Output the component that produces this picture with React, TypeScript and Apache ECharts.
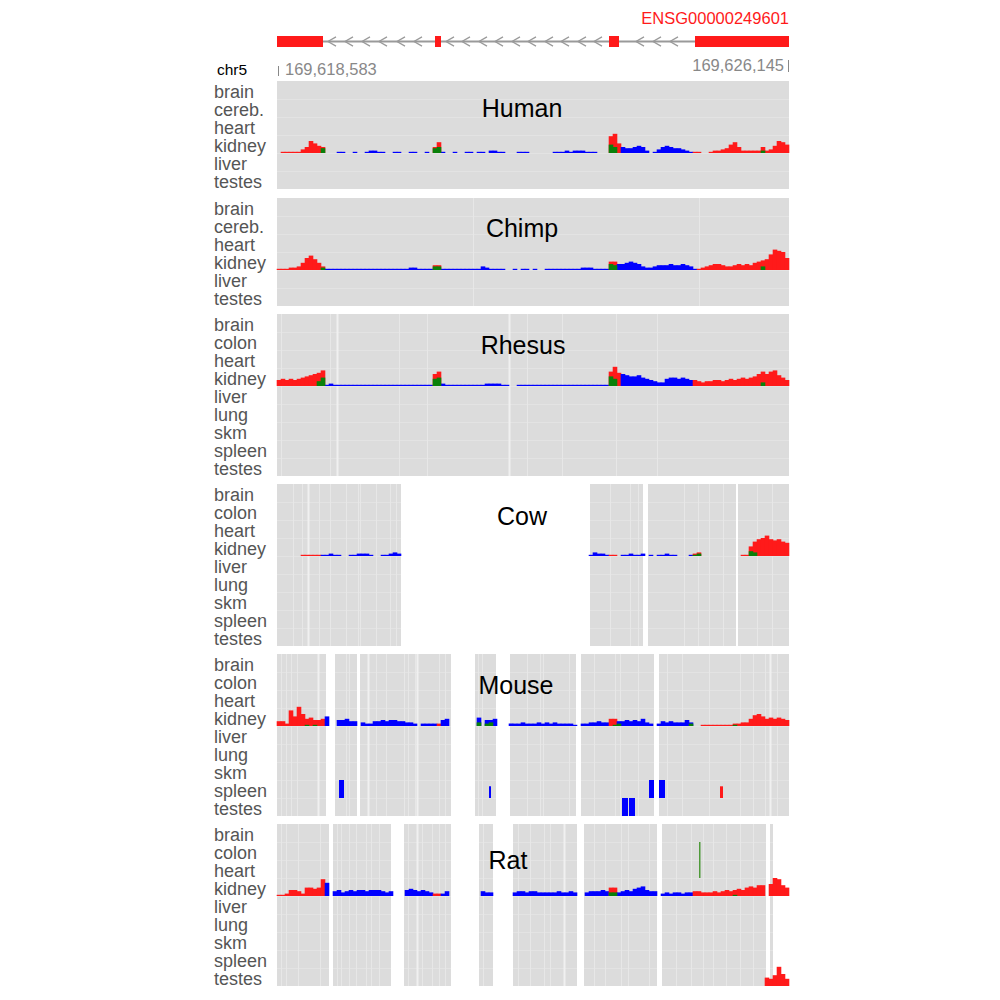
import React, { useEffect, useRef } from "react";
import * as echarts from "echarts";

// ---------- constants ----------
const FONT = "'Liberation Sans', Arial, Helvetica, sans-serif";
const LOCUS = 512; // track positions across the locus (~14.8 bp each)
const BIN = 4; // positions per coverage bin
const ROW = 15; // coverage units per tissue row

// ---------- gene model ----------
const GENE_ID = "ENSG00000249601";
const CHROM = "chr5";
const START_LABEL = "169,618,583";
const END_LABEL = "169,626,145";
const EXONS: [number, number][] = [[0, 46], [158, 164], [332, 342], [418, 512]];
const CHEVRONS = [55, 72, 89, 106, 124, 141, 173, 189, 206, 222, 239, 255, 272, 288, 305, 321, 363, 380, 397];

// ---------- tissues ----------
const TISSUES_PRIMATE = ["brain", "cereb.", "heart", "kidney", "liver", "testes"];
const TISSUES_FULL = ["brain", "colon", "heart", "kidney", "liver", "lung", "skm", "spleen", "testes"];

// ---------- coverage (kidney track, 128 bins) ----------
const HUMAN_HEIGHTS = [
  0, 1, 1, 1, 1, 1, 3, 5, 10, 8, 6, 5, 0, 0, 0, 1,
  1, 0, 0, 1, 0, 0, 1, 2, 2, 1, 1, 0, 0, 1, 1, 0,
  0, 1, 1, 0, 0, 1, 0, 5, 9, 1, 0, 0, 1, 0, 0, 1,
  1, 0, 1, 1, 0, 2, 2, 1, 1, 0, 0, 0, 1, 1, 1, 0,
  0, 0, 0, 0, 0, 1, 1, 1, 2, 1, 2, 2, 2, 1, 1, 1,
  0, 0, 0, 14, 16, 8, 5, 4, 4, 5, 6, 5, 2, 0, 1, 3,
  5, 6, 5, 4, 4, 3, 2, 1, 1, 1, 0, 0, 1, 2, 2, 3,
  4, 7, 9, 5, 2, 2, 2, 2, 2, 5, 2, 3, 6, 10, 9, 7,
];
const HUMAN_COLORS: [number, number, string][] = [[0, 11, "r"], [12, 38, "b"], [39, 40, "r"], [41, 82, "b"], [83, 85, "r"], [86, 103, "b"], [104, 127, "r"]];
const HUMAN_GREEN: [number, number][] = [[11, 4], [39, 4], [40, 5], [83, 7], [84, 5], [121, 2]];

const CHIMP_HEIGHTS = [
  1, 1, 1, 2, 2, 3, 6, 10, 12, 9, 6, 3, 1, 1, 1, 1,
  1, 1, 1, 1, 1, 1, 1, 1, 1, 1, 1, 1, 1, 1, 1, 1,
  1, 2, 2, 1, 1, 1, 1, 4, 4, 1, 1, 1, 1, 1, 1, 1,
  1, 1, 1, 3, 2, 1, 1, 1, 1, 0, 0, 1, 0, 1, 1, 0,
  1, 0, 0, 1, 1, 1, 1, 1, 1, 1, 1, 1, 2, 2, 2, 1,
  1, 1, 1, 7, 7, 5, 5, 6, 7, 6, 5, 3, 2, 2, 3, 4,
  4, 4, 5, 4, 4, 5, 4, 3, 1, 1, 2, 3, 4, 5, 5, 4,
  3, 3, 4, 5, 4, 5, 4, 6, 7, 8, 9, 13, 17, 16, 15, 10,
];
const CHIMP_COLORS: [number, number, string][] = [[0, 11, "r"], [12, 38, "b"], [39, 40, "r"], [41, 82, "b"], [83, 84, "r"], [85, 104, "b"], [105, 127, "r"]];
const CHIMP_GREEN: [number, number][] = [[11, 2], [39, 3], [40, 3], [83, 5], [84, 4], [121, 3]];

const RHESUS_HEIGHTS = [
  5, 6, 5, 6, 5, 6, 7, 8, 9, 10, 11, 13, 1, 2, 1, 1,
  1, 1, 1, 1, 1, 1, 1, 1, 1, 1, 1, 1, 1, 1, 1, 1,
  1, 1, 1, 1, 1, 1, 1, 10, 12, 2, 1, 1, 1, 1, 1, 1,
  1, 1, 1, 1, 2, 2, 2, 2, 1, 1, 0, 0, 1, 1, 1, 1,
  1, 1, 1, 1, 1, 1, 1, 1, 1, 1, 1, 1, 1, 1, 1, 1,
  1, 1, 1, 12, 16, 11, 10, 9, 8, 8, 9, 7, 6, 5, 4, 3,
  3, 6, 7, 7, 6, 7, 6, 5, 5, 4, 3, 4, 4, 5, 5, 4,
  5, 6, 5, 6, 7, 6, 7, 8, 10, 12, 10, 12, 13, 9, 7, 5,
];
const RHESUS_COLORS: [number, number, string][] = [[0, 11, "r"], [12, 38, "b"], [39, 40, "r"], [41, 82, "b"], [83, 85, "r"], [86, 103, "b"], [104, 127, "r"]];
const RHESUS_GREEN: [number, number][] = [[10, 4], [11, 7], [39, 6], [40, 7], [83, 8], [84, 6], [121, 3]];

const COW_HEIGHTS = [
  0, 0, 0, 0, 0, 0, 1, 1, 1, 1, 1, 1, 1, 2, 1, 1,
  0, 0, 1, 1, 2, 2, 2, 1, 0, 0, 1, 1, 2, 3, 2, 0,
  0, 0, 0, 0, 0, 0, 0, 0, 0, 0, 0, 0, 0, 0, 0, 0,
  0, 0, 0, 0, 0, 0, 0, 0, 0, 0, 0, 0, 0, 0, 0, 0,
  0, 0, 0, 0, 0, 0, 0, 0, 0, 0, 0, 0, 0, 0, 1, 3,
  2, 2, 1, 1, 1, 0, 1, 1, 2, 1, 1, 2, 0, 1, 0, 1,
  1, 2, 1, 1, 0, 0, 0, 1, 2, 3, 0, 0, 0, 0, 0, 0,
  0, 0, 0, 0, 1, 1, 8, 12, 14, 15, 17, 14, 13, 14, 12, 11,
];
const COW_COLORS: [number, number, string][] = [[0, 10, "r"], [11, 82, "b"], [83, 84, "r"], [85, 103, "b"], [104, 127, "r"]];
const COW_GREEN: [number, number][] = [[104, 1], [105, 2], [118, 4], [119, 3]];

const MOUSE_HEIGHTS = [
  4, 4, 2, 13, 8, 16, 10, 6, 7, 5, 5, 6, 8, 0, 0, 5,
  5, 6, 4, 4, 0, 3, 2, 2, 4, 4, 5, 4, 5, 5, 4, 4,
  3, 3, 2, 0, 2, 2, 2, 2, 2, 5, 6, 0, 0, 0, 0, 0,
  0, 0, 7, 0, 5, 5, 6, 0, 0, 0, 2, 2, 2, 3, 2, 2,
  2, 3, 2, 3, 2, 3, 2, 2, 2, 2, 1, 0, 2, 2, 3, 3,
  4, 3, 3, 6, 6, 4, 4, 5, 4, 5, 4, 6, 3, 2, 0, 2,
  4, 3, 4, 3, 3, 3, 5, 3, 0, 0, 1, 1, 1, 1, 1, 1,
  1, 1, 2, 2, 3, 3, 6, 9, 10, 8, 6, 7, 6, 7, 6, 5,
];
const MOUSE_COLORS: [number, number, string][] = [[0, 11, "r"], [12, 39, "b"], [40, 40, "r"], [41, 82, "b"], [83, 84, "r"], [85, 105, "b"], [106, 127, "r"]];
const MOUSE_GREEN: [number, number][] = [[7, 1], [9, 1], [50, 3], [52, 2], [53, 3], [84, 1], [85, 2], [103, 2], [114, 1]];

const RAT_HEIGHTS = [
  1, 1, 2, 5, 5, 4, 2, 7, 7, 6, 7, 14, 11, 0, 4, 5,
  3, 4, 5, 4, 5, 5, 4, 5, 5, 5, 4, 3, 4, 0, 0, 0,
  5, 6, 5, 4, 5, 4, 3, 2, 2, 2, 4, 0, 0, 0, 0, 0,
  0, 0, 0, 4, 3, 3, 0, 0, 0, 0, 0, 3, 4, 4, 3, 4,
  4, 3, 3, 3, 3, 3, 4, 3, 3, 4, 3, 0, 0, 3, 4, 4,
  4, 5, 4, 7, 7, 3, 4, 5, 4, 6, 7, 8, 5, 4, 4, 0,
  2, 3, 2, 3, 3, 2, 3, 3, 4, 4, 3, 3, 3, 4, 3, 4,
  5, 4, 5, 6, 5, 7, 8, 7, 9, 9, 0, 10, 15, 14, 9, 7,
];
const RAT_COLORS: [number, number, string][] = [[0, 11, "r"], [12, 38, "b"], [39, 40, "r"], [41, 82, "b"], [83, 84, "r"], [85, 103, "b"], [104, 127, "r"]];
const RAT_GREEN: [number, number][] = [[83, 3], [84, 3], [114, 1]];
// rat testes track: [bin, height]
const RAT_TESTES: [number, number][] = [[122, 7], [123, 6], [124, 9], [125, 16], [126, 10], [127, 6]];

// ---------- signal blocks in other tissues: [tissue, start, end, fraction of row, colour] ----------
const MOUSE_BLOCKS: [string, number, number, number, string][] = [
  ["spleen", 62, 67, 1, "b"],
  ["spleen", 212, 214, 0.65, "b"],
  ["testes", 345, 351, 1, "b"],
  ["testes", 352, 358, 1, "b"],
  ["spleen", 372, 377, 1, "b"],
  ["spleen", 382, 388, 1, "b"],
  ["spleen", 443, 446, 0.65, "r"],
];
const RAT_BLOCKS: [string, number, number, number, string][] = [
  ["colon", 422, 423.5, 1, "l"],
  ["heart", 422, 423.5, 1, "l"],
];

// ---------- aligned regions & alignment-block separators ----------
const FULL_ALIGNED: [number, number][] = [[0, 512]];
const COW_ALIGNED: [number, number][] = [[0, 124], [313, 366], [371, 459], [461, 512]];
const MOUSE_ALIGNED: [number, number][] = [[0, 49], [58, 80], [83, 174], [198, 219], [233, 299], [304, 377], [382, 512]];
const RAT_ALIGNED: [number, number][] = [[0, 52], [56, 114], [127, 174], [202, 216], [236, 300], [307, 380], [385, 489], [493, 496]];

const CHIMP_SEPS = [196, 422];
const RHESUS_SEPS = [4, 53, 122, 150, 250, 285, 339, 380];
const RHESUS_BRIGHT = [60, 232];
const COW_SEPS = [16, 25, 42, 53, 69, 81, 83, 99, 113, 119, 333, 353, 361, 407, 421, 432, 446, 480, 495];
const COW_BRIGHT = [31];
const MOUSE_SEPS = [4, 9, 14, 20, 69, 72, 99, 109, 127, 131, 138, 162, 168, 201, 205, 250, 263, 266, 292, 317, 338, 343, 361, 390, 405, 432, 463, 476, 488, 500];
const MOUSE_BRIGHT = [41, 91, 140, 493];
const RAT_SEPS = [4, 9, 21, 43, 60, 64, 72, 79, 89, 94, 102, 131, 145, 155, 162, 168, 206, 241, 253, 267, 273, 317, 328, 344, 351, 372, 399, 414, 426, 436, 449, 463, 476];
const RAT_BRIGHT = [140, 287];

// ---------- panels ----------
const PANELS = [
  { name: "Human", tissues: TISSUES_PRIMATE, heights: HUMAN_HEIGHTS, colors: HUMAN_COLORS, green: HUMAN_GREEN, aligned: FULL_ALIGNED, seps: [] as number[], bright: [] as number[], blocks: [] as [string, number, number, number, string][], testes: [] as [number, number][] },
  { name: "Chimp", tissues: TISSUES_PRIMATE, heights: CHIMP_HEIGHTS, colors: CHIMP_COLORS, green: CHIMP_GREEN, aligned: FULL_ALIGNED, seps: CHIMP_SEPS, bright: [], blocks: [], testes: [] },
  { name: "Rhesus", tissues: TISSUES_FULL, heights: RHESUS_HEIGHTS, colors: RHESUS_COLORS, green: RHESUS_GREEN, aligned: FULL_ALIGNED, seps: RHESUS_SEPS, bright: RHESUS_BRIGHT, blocks: [], testes: [] },
  { name: "Cow", tissues: TISSUES_FULL, heights: COW_HEIGHTS, colors: COW_COLORS, green: COW_GREEN, aligned: COW_ALIGNED, seps: COW_SEPS, bright: COW_BRIGHT, blocks: [], testes: [] },
  { name: "Mouse", tissues: TISSUES_FULL, heights: MOUSE_HEIGHTS, colors: MOUSE_COLORS, green: MOUSE_GREEN, aligned: MOUSE_ALIGNED, seps: MOUSE_SEPS, bright: MOUSE_BRIGHT, blocks: MOUSE_BLOCKS, testes: [] },
  { name: "Rat", tissues: TISSUES_FULL, heights: RAT_HEIGHTS, colors: RAT_COLORS, green: RAT_GREEN, aligned: RAT_ALIGNED, seps: RAT_SEPS, bright: RAT_BRIGHT, blocks: RAT_BLOCKS, testes: RAT_TESTES },
];

// ---------- layout (pixels) ----------
const PLOT_LEFT = 277;
const PLOT_WIDTH = 512;
const LABEL_X = 214;
const ROW_PX = 18;
const PANEL_LAYOUT = [
  { top: 81, titleX: 522, titleY: 108 },
  { top: 198, titleX: 522, titleY: 228 },
  { top: 314, titleX: 523, titleY: 345 },
  { top: 484, titleX: 522, titleY: 516 },
  { top: 654, titleX: 516, titleY: 685 },
  { top: 824, titleX: 508, titleY: 860 },
];
const GENE_TOP = 36;
const GENE_HEIGHT = 11;

const PALETTE: Record<string, string> = {
  r: "#ff1a1a",
  b: "#0000ff",
  g: "#0a800a",
  l: "#4f9a3a",
};
const BG = "#dcdcdc";
const ROW_LINE = "#e3e3e3";
const SEP_LINE = "#e7e7e7";
const BRIGHT_LINE = "#f0f0f0";
const LABEL_GRAY = "#555555";
const RULER_GRAY = "#888888";

function colorAt(runs: [number, number, string][], bin: number): string {
  for (const r of runs) if (bin >= r[0] && bin <= r[1]) return r[2];
  return "r";
}

function buildOption() {
  const grids: any[] = [];
  const xAxes: any[] = [];
  const yAxes: any[] = [];
  const series: any[] = [];
  const graphic: any[] = [];

  PANELS.forEach((p, gi) => {
    const lay = PANEL_LAYOUT[gi];
    const rows = p.tissues.length;
    const yMax = rows * ROW;
    const kidneyBase = (rows - p.tissues.indexOf("kidney") - 1) * ROW;
    grids.push({ left: PLOT_LEFT, width: PLOT_WIDTH, top: lay.top, height: rows * ROW_PX });
    xAxes.push({ type: "value", gridIndex: gi, min: 0, max: LOCUS, show: false });
    yAxes.push({ type: "value", gridIndex: gi, min: 0, max: yMax, show: false });

    // aligned background blocks with faint row lines
    series.push({
      type: "custom",
      xAxisIndex: gi,
      yAxisIndex: gi,
      silent: true,
      z: 1,
      data: p.aligned.map((a) => [a[0], a[1]]),
      renderItem: (params: any, api: any) => {
        const s = api.value(0);
        const e = api.value(1);
        const p0 = api.coord([s, yMax]);
        const p1 = api.coord([e, 0]);
        const children: any[] = [
          { type: "rect", shape: { x: p0[0], y: p0[1], width: p1[0] - p0[0], height: p1[1] - p0[1] }, style: { fill: BG } },
        ];
        for (let r = 1; r < rows; r++) {
          const y = Math.round(api.coord([s, r * ROW])[1]) + 0.5;
          children.push({ type: "line", shape: { x1: p0[0], y1: y, x2: p1[0], y2: y }, style: { stroke: ROW_LINE, lineWidth: 1 } });
        }
        return { type: "group", children };
      },
    });

    // alignment-block separators
    const sepData = [...p.seps.map((s) => [s, 0]), ...p.bright.map((s) => [s, 1])];
    if (sepData.length) {
      series.push({
        type: "custom",
        xAxisIndex: gi,
        yAxisIndex: gi,
        silent: true,
        z: 2,
        data: sepData,
        renderItem: (params: any, api: any) => {
          const x = api.value(0);
          const bright = api.value(1) === 1;
          const a = api.coord([x, yMax]);
          const b = api.coord([x, 0]);
          const xx = Math.round(a[0]) + 0.5;
          return {
            type: "line",
            shape: { x1: xx, y1: a[1], x2: xx, y2: b[1] },
            style: { stroke: bright ? BRIGHT_LINE : SEP_LINE, lineWidth: bright ? 2 : 1 },
          };
        },
      });
    }

    // coverage bars
    const binRect = (base: number) => (params: any, api: any) => {
      const bin = api.value(0);
      const h = api.value(1);
      const c = api.value(2);
      const p0 = api.coord([bin * BIN, base + h]);
      const p1 = api.coord([bin * BIN + BIN, base]);
      return {
        type: "rect",
        shape: { x: p0[0] - 0.3, y: p0[1], width: p1[0] - p0[0] + 0.6, height: p1[1] - p0[1] },
        style: { fill: PALETTE[["r", "b", "g"][c]] },
      };
    };
    const codeOf = (c: string) => (c === "b" ? 1 : c === "g" ? 2 : 0);
    const covData = p.heights
      .map((h, i) => [i, h, codeOf(colorAt(p.colors, i))])
      .filter((d) => d[1] > 0);
    series.push({
      type: "custom",
      xAxisIndex: gi,
      yAxisIndex: gi,
      silent: true,
      z: 3,
      data: covData,
      renderItem: binRect(kidneyBase),
    });
    series.push({
      type: "custom",
      xAxisIndex: gi,
      yAxisIndex: gi,
      silent: true,
      z: 4,
      data: p.green.map((g) => [g[0], g[1], 2]),
      renderItem: binRect(kidneyBase),
    });
    if (p.testes.length) {
      const testesBase = (rows - p.tissues.indexOf("testes") - 1) * ROW;
      series.push({
        type: "custom",
        xAxisIndex: gi,
        yAxisIndex: gi,
        silent: true,
        z: 3,
        data: p.testes.map((t) => [t[0], t[1], 0]),
        renderItem: binRect(testesBase),
      });
    }

    // signal blocks in other tissue rows
    if (p.blocks.length) {
      series.push({
        type: "custom",
        xAxisIndex: gi,
        yAxisIndex: gi,
        silent: true,
        z: 5,
        data: p.blocks.map((b) => [p.tissues.indexOf(b[0]), b[1], b[2], b[3], ["r", "b", "g", "l"].indexOf(b[4])]),
        renderItem: (params: any, api: any) => {
          const row = api.value(0);
          const s = api.value(1);
          const e = api.value(2);
          const f = api.value(3);
          const c = ["r", "b", "g", "l"][api.value(4)];
          const base = (rows - row - 1) * ROW;
          const p0 = api.coord([s, base + f * ROW]);
          const p1 = api.coord([e, base]);
          return {
            type: "rect",
            shape: { x: p0[0], y: p0[1], width: Math.max(1, p1[0] - p0[0]), height: p1[1] - p0[1] },
            style: { fill: PALETTE[c] },
          };
        },
      });
    }

    // tissue labels
    p.tissues.forEach((t, ti) => {
      graphic.push({
        type: "text",
        x: LABEL_X,
        y: lay.top + ti * ROW_PX + ROW_PX / 2 + 2,
        silent: true,
        style: { text: t, fill: LABEL_GRAY, fontSize: 18, fontFamily: FONT, align: "left", verticalAlign: "middle" },
      });
    });
    // species title
    graphic.push({
      type: "text",
      x: lay.titleX,
      y: lay.titleY,
      silent: true,
      z: 10,
      style: { text: p.name, fill: "#000000", fontSize: 25, fontFamily: FONT, align: "center", verticalAlign: "middle" },
    });
  });

  // gene model grid
  const gGrid = PANELS.length;
  grids.push({ left: PLOT_LEFT, width: PLOT_WIDTH, top: GENE_TOP, height: GENE_HEIGHT });
  xAxes.push({ type: "value", gridIndex: gGrid, min: 0, max: LOCUS, show: false });
  yAxes.push({ type: "value", gridIndex: gGrid, min: 0, max: 1, show: false });
  series.push({
    type: "custom",
    xAxisIndex: gGrid,
    yAxisIndex: gGrid,
    silent: true,
    z: 2,
    data: [[EXONS[0][1], EXONS[EXONS.length - 1][0]]],
    renderItem: (params: any, api: any) => {
      const a = api.coord([api.value(0), 0.5]);
      const b = api.coord([api.value(1), 0.5]);
      return { type: "line", shape: { x1: a[0], y1: a[1], x2: b[0], y2: b[1] }, style: { stroke: "#9a9a9a", lineWidth: 2 } };
    },
  });
  series.push({
    type: "custom",
    xAxisIndex: gGrid,
    yAxisIndex: gGrid,
    silent: true,
    z: 3,
    data: CHEVRONS.map((c) => [c]),
    renderItem: (params: any, api: any) => {
      const c = api.value(0);
      const top = api.coord([c + 4, 0.92]);
      const mid = api.coord([c - 4, 0.5]);
      const bot = api.coord([c + 4, 0.08]);
      return { type: "polyline", shape: { points: [top, mid, bot] }, style: { stroke: "#9a9a9a", lineWidth: 1.3, fill: null } };
    },
  });
  series.push({
    type: "custom",
    xAxisIndex: gGrid,
    yAxisIndex: gGrid,
    silent: true,
    z: 4,
    data: EXONS.map((e) => [e[0], e[1]]),
    renderItem: (params: any, api: any) => {
      const p0 = api.coord([api.value(0), 1]);
      const p1 = api.coord([api.value(1), 0]);
      return { type: "rect", shape: { x: p0[0], y: p0[1], width: p1[0] - p0[0], height: p1[1] - p0[1] }, style: { fill: PALETTE.r } };
    },
  });

  // header texts & ruler
  graphic.push(
    { type: "text", x: 789, y: 18, silent: true, style: { text: GENE_ID, fill: "#ff1a1a", fontSize: 16.5, fontFamily: FONT, align: "right", verticalAlign: "middle" } },
    { type: "text", x: 217, y: 69, silent: true, style: { text: CHROM, fill: "#000000", fontSize: 15.5, fontFamily: FONT, align: "left", verticalAlign: "middle" } },
    { type: "text", x: 285, y: 69, silent: true, style: { text: START_LABEL, fill: RULER_GRAY, fontSize: 16.5, fontFamily: FONT, align: "left", verticalAlign: "middle" } },
    { type: "text", x: 784, y: 65, silent: true, style: { text: END_LABEL, fill: RULER_GRAY, fontSize: 16.5, fontFamily: FONT, align: "right", verticalAlign: "middle" } },
    { type: "line", silent: true, shape: { x1: 278.5, y1: 66, x2: 278.5, y2: 76 }, style: { stroke: RULER_GRAY, lineWidth: 1 } },
    { type: "line", silent: true, shape: { x1: 788.5, y1: 60, x2: 788.5, y2: 72 }, style: { stroke: RULER_GRAY, lineWidth: 1 } }
  );

  return {
    animation: false,
    backgroundColor: "#ffffff",
    grid: grids,
    xAxis: xAxes,
    yAxis: yAxes,
    series,
    graphic,
  };
}

export default function App() {
  const ref = useRef<HTMLDivElement>(null);
  useEffect(() => {
    if (!ref.current) return;
    const chart = echarts.init(ref.current, null, { renderer: "svg" });
    chart.setOption(buildOption() as any);
    return () => chart.dispose();
  }, []);
  return <div ref={ref} style={{ position: "absolute", left: 0, top: 0, width: 1000, height: 1000 }} />;
}
